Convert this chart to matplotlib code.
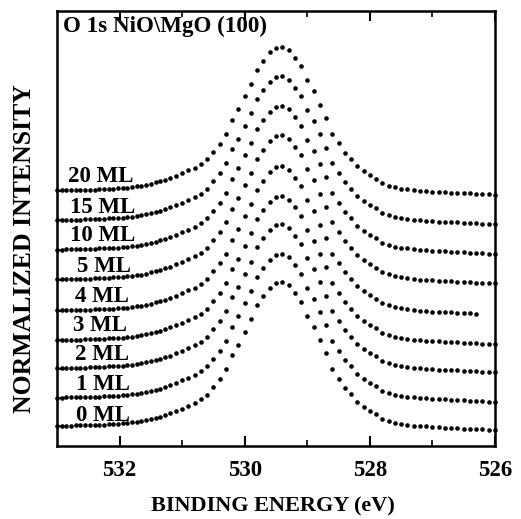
# O 1s XPS spectra of NiO films on MgO(100), stacked by coverage

import numpy as np
import matplotlib
matplotlib.use("Agg")
import matplotlib.pyplot as plt
from matplotlib.ticker import FixedLocator

plt.rcParams["font.family"] = ["Liberation Serif", "DejaVu Serif"]
plt.rcParams["font.weight"] = "bold"

# ------------------------------------------------------------
# Data
# ------------------------------------------------------------
coverage_labels = ["0 ML", "1 ML", "2 ML", "3 ML", "4 ML",
                   "5 ML", "10 ML", "15 ML", "20 ML"]
offsets = [0.0, 0.19, 0.39, 0.58, 0.78, 0.99, 1.19, 1.39, 1.59]
low_energy_end = [526.0, 526.0, 526.0, 526.0, 526.3, 526.0, 526.0, 526.0, 526.0]

label_x = [532.70, 532.70, 532.71, 532.74, 532.71, 532.68, 532.79, 532.79, 532.82]
label_y = [0.061, 0.270, 0.473, 0.671, 0.867, 1.070, 1.279, 1.466, 1.678]

# energy grid: finer step on the high binding energy side
energy_fine = np.round(533.0 - 0.075 * np.arange(25), 3)     # 533.0 .. 531.2
energy_coarse = np.round(531.1 - 0.1 * np.arange(52), 2)     # 531.1 .. 526.0
energy = np.concatenate([energy_fine, energy_coarse])

# normalized O 1s line shape (peak = 1)
profile_fine = [0.029, 0.029, 0.030, 0.030, 0.031, 0.031, 0.032, 0.033, 0.034,
                0.036, 0.037, 0.039, 0.040, 0.042, 0.044, 0.047, 0.051, 0.055,
                0.060, 0.066, 0.074, 0.082, 0.090, 0.101, 0.113]
profile_coarse = [0.128, 0.145, 0.163, 0.182, 0.206, 0.239, 0.291, 0.345, 0.412,
                  0.505, 0.577, 0.665, 0.748, 0.843, 0.904, 0.960, 0.993, 1.000,
                  0.976, 0.923, 0.866, 0.772, 0.697, 0.607, 0.518, 0.412, 0.346,
                  0.284, 0.240, 0.190, 0.157, 0.130, 0.107, 0.076, 0.061, 0.049,
                  0.041, 0.036, 0.030, 0.026, 0.024, 0.020, 0.018, 0.016, 0.014,
                  0.012, 0.010, 0.008, 0.006, 0.004, 0.002, 0.000]
profile = np.array(profile_fine + profile_coarse)

# ------------------------------------------------------------
# Plot
# ------------------------------------------------------------
fig = plt.figure(figsize=(5.21, 5.19), dpi=100)
ax = fig.add_axes([0.1094, 0.1407, 0.8407, 0.8381])

for off, end in zip(offsets, low_energy_end):
    m = energy >= end - 1e-6
    ax.plot(energy[m], profile[m] + off, "o", color="black",
            markersize=3.3, markeredgewidth=0, clip_on=False)

for lab, lx, ly in zip(coverage_labels, label_x, label_y):
    ax.text(lx, ly, lab, fontsize=16.5, fontweight="bold",
            ha="left", va="baseline")

ax.text(532.904, 2.687, "O 1s NiO\\MgO (100)", fontsize=16.6,
        fontweight="bold", ha="left", va="baseline")

ax.set_xlim(533, 526)
ax.set_ylim(-0.108, 2.83)

ax.xaxis.set_major_locator(FixedLocator([532, 530, 528, 526]))
ax.xaxis.set_minor_locator(FixedLocator([531, 529, 527]))
ax.set_yticks([o + 0.025 for o in offsets])
ax.set_yticklabels([])

ax.tick_params(axis="x", which="major", direction="in", length=7, width=1.5,
               top=True, labelsize=16.5, pad=10)
ax.tick_params(axis="x", which="minor", direction="in", length=4, width=1.2,
               top=True)
ax.tick_params(axis="y", direction="in", length=3, width=1.2)
for lbl in ax.get_xticklabels():
    lbl.set_fontweight("bold")

for s in ax.spines.values():
    s.set_linewidth(1.8)

ax.set_xlabel("BINDING ENERGY (eV)", fontsize=16, fontweight="bold")
ax.set_ylabel("NORMALIZED INTENSITY", fontsize=18.5, fontweight="bold")
ax.xaxis.set_label_coords(0.493, -0.117)
ax.yaxis.set_label_coords(-0.048, 0.455)

fig.savefig("out.png", dpi=100)
